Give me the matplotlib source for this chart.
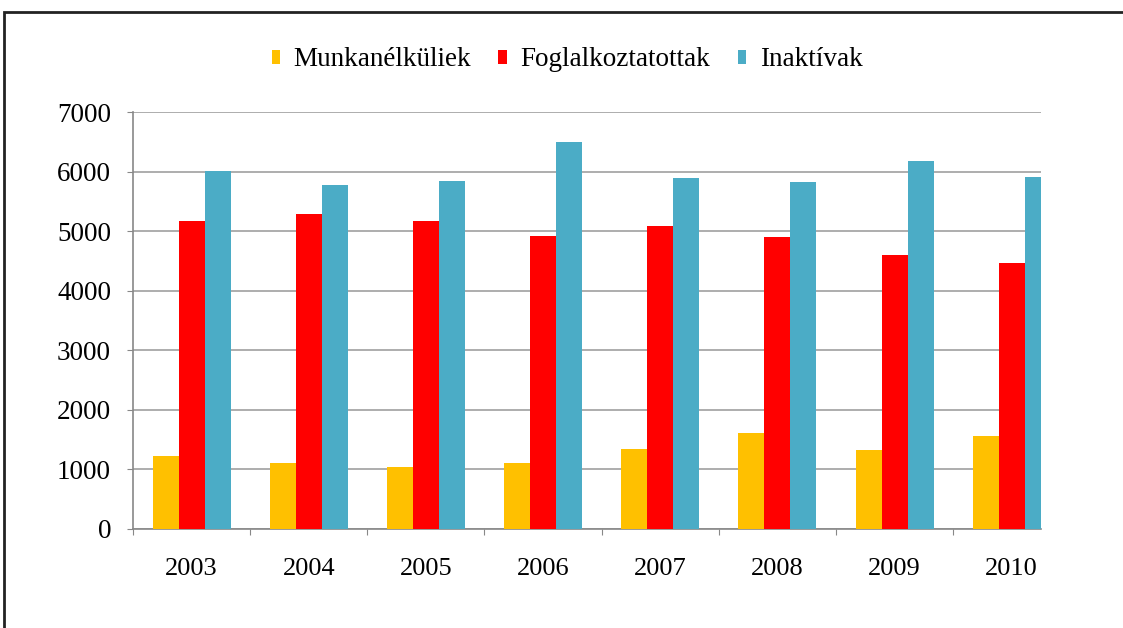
import matplotlib
matplotlib.use("Agg")
import matplotlib.pyplot as plt
import numpy as np
from matplotlib.patches import Rectangle

years = ["2003", "2004", "2005", "2006", "2007", "2008", "2009", "2010"]
munkanelkuliek = [1230, 1110, 1040, 1110, 1345, 1605, 1320, 1555]
foglalkoztatottak = [5175, 5285, 5175, 4920, 5090, 4900, 4595, 4465]
inaktivak = [6010, 5775, 5845, 6490, 5885, 5825, 6185, 5905]
series_names = ["Munkanélküliek", "Foglalkoztatottak", "Inaktívak"]
colors = ["#FFC000", "#FF0000", "#4BACC6"]

plt.rcParams['font.family'] = ['Liberation Serif', 'DejaVu Serif']

W, H = 1123, 628
fig = plt.figure(figsize=(W / 100, H / 100), dpi=100)
ax = fig.add_axes([133 / W, 1 - 529 / H, (1041 - 133) / W, (529 - 112) / H])

x = np.arange(len(years))
bw = 0.222
for i, (vals, name, c) in enumerate(zip([munkanelkuliek, foglalkoztatottak, inaktivak], series_names, colors)):
    ax.bar(x + (i - 1) * bw, vals, width=bw, color=c, label=name, zorder=3)

ax.set_ylim(0, 7000)
ax.set_yticks(range(0, 7001, 1000))
ax.set_xticks(np.arange(-0.5, 7.6, 1.0))
ax.set_xticklabels([])
ax.set_xticks(x, minor=True)
ax.set_xticklabels(years, minor=True)
ax.set_xlim(-0.5, 7.25)
ax.tick_params(axis='x', which='minor', length=0, pad=21, labelsize=19)
ax.tick_params(axis='x', which='major', length=4.3, direction='out', color='#888888')
ax.tick_params(axis='y', length=4.3, direction='out', color='#888888', labelsize=19.5, pad=11.5)
ax.yaxis.grid(True, color='#a0a0a0', linewidth=1.2, zorder=0)
ax.set_axisbelow(True)
for s in ['top', 'right']:
    ax.spines[s].set_visible(False)
for s in ['left', 'bottom']:
    ax.spines[s].set_color('#888888')
    ax.spines[s].set_linewidth(1.2)

leg = fig.legend(loc='center', bbox_to_anchor=(567 / W, 1 - 60 / H), ncol=3, frameon=False,
                 fontsize=19.5, handlelength=0.32, handleheight=0.45, handletextpad=0.5,
                 columnspacing=1.0)

fig.patches.append(Rectangle((4 / W, -0.1), 1.2, 1 - 12 / H + 0.1, transform=fig.transFigure,
                             fill=False, edgecolor='#222222', linewidth=2))

fig.savefig("out.png", dpi=100)
